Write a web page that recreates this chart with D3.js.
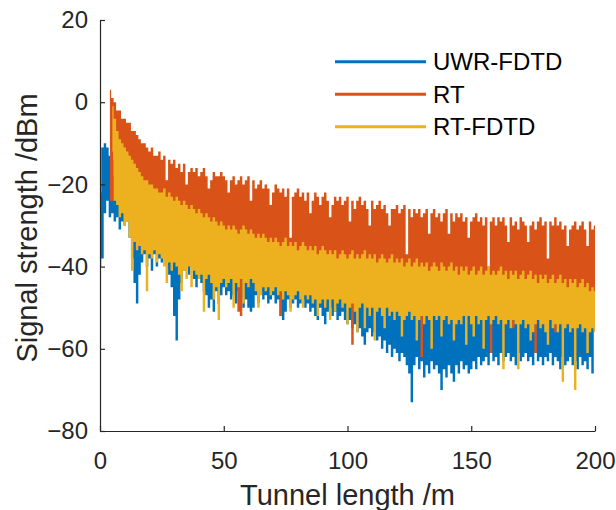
<!doctype html>
<html>
<head>
<meta charset="utf-8">
<title>Signal strength along the tunnel</title>
<script src="https://cdn.jsdelivr.net/npm/d3@7"></script>
<style>
    body { margin: 0; background: #fff; }
    svg { display: block; font-family: "Liberation Sans", Arial, sans-serif; }
</style>
</head>
<body>
<svg id="chart" width="616" height="510"></svg>
<script>

    // tunnel length, one sample per metre
    var distance = d3.range(0, 201);

    // series names / legend
    var seriesNames = ["UWR-FDTD", "RT", "RT-FDTD"];
    var xTicks = [0, 50, 100, 150, 200];
    var yTicks = [20, 0, -20, -40, -60, -80];

    // per-metre max / min of each trace (dBm)
    var uwrMax = [
        -22,-11,-10,-11,-13,-14,-18,-20,-22,-20,
        -22,-24,-25,-26,-28,-29,-30,-31,-32,-33,
        -26,-27,-27,-28,-28,-29,-28,-29,-29,-30,
        -30,-31,-31,-32,-31,-32,-33,-32,-33,-34,
        -33,-34,-35,-34,-35,-36,-35,-36,-37,-36,
        -36,-37,-37,-38,-37,-38,-39,-38,-37,-38,
        -39,-38,-39,-40,-39,-40,-39,-40,-41,-40,
        -41,-40,-41,-42,-41,-40,-42,-41,-42,-41,
        -43,-42,-41,-42,-43,-42,-43,-42,-44,-43,
        -42,-43,-44,-43,-44,-43,-45,-44,-43,-44,
        -45,-44,-43,-45,-44,-45,-44,-43,-45,-44,
        -45,-44,-46,-45,-44,-45,-46,-45,-44,-46,
        -45,-46,-45,-47,-46,-45,-47,-46,-45,-47,
        -46,-47,-46,-48,-47,-46,-47,-48,-46,-47,
        -48,-47,-46,-48,-47,-49,-47,-48,-47,-49,
        -48,-47,-49,-48,-47,-49,-48,-47,-49,-48,
        -49,-48,-47,-49,-48,-50,-48,-49,-48,-50,
        -49,-48,-50,-49,-48,-50,-49,-51,-49,-50,
        -49,-51,-50,-49,-51,-50,-49,-51,-50,-52,
        -50,-51,-50,-52,-51,-50,-52,-51,-53,-52,
        -50
    ];
    var uwrMin = [
        -40,-38,-27,-24,-28,-27,-29,-28,-31,-29,
        -30,-29,-33,-38,-44,-49,-42,-39,-37,-40,
        -38,-41,-37,-40,-38,-39,-36,-40,-42,-45,
        -52,-58,-48,-44,-41,-39,-42,-40,-43,-45,
        -43,-44,-46,-47,-50,-48,-51,-46,-49,-47,
        -45,-47,-46,-48,-47,-49,-46,-48,-50,-48,
        -50,-51,-50,-47,-49,-46,-48,-47,-49,-48,
        -47,-49,-48,-52,-53,-51,-48,-50,-49,-48,
        -50,-49,-48,-50,-49,-51,-50,-52,-53,-50,
        -52,-54,-51,-50,-52,-51,-53,-52,-51,-53,
        -54,-53,-55,-54,-56,-55,-57,-59,-56,-55,
        -57,-56,-58,-57,-60,-58,-61,-59,-62,-60,
        -61,-63,-61,-62,-64,-66,-73,-64,-62,-65,
        -63,-67,-64,-66,-63,-65,-64,-66,-70,-65,
        -67,-64,-66,-68,-64,-66,-63,-65,-64,-66,
        -65,-63,-65,-62,-64,-63,-62,-64,-61,-63,
        -62,-64,-61,-63,-62,-61,-63,-62,-64,-61,
        -63,-62,-61,-63,-62,-64,-61,-63,-62,-64,
        -62,-63,-61,-64,-62,-63,-65,-62,-64,-63,
        -62,-64,-63,-65,-62,-64,-63,-65,-62,-66,
        -50
    ];

    var rtMax = [
        null,null,null,null,3,1,0,-2,-2,-4,
        -4,-5,-5,-7,-7,-8,-9,-10,-10,-11,
        -12,-11,-13,-13,-12,-14,-13,-19,-14,-15,
        -14,-16,-15,-17,-15,-20,-17,-16,-17,-16,
        -18,-17,-16,-18,-21,-19,-17,-18,-18,-17,
        -18,-19,-22,-19,-18,-20,-19,-18,-20,-19,
        -18,-24,-19,-21,-20,-19,-21,-20,-21,-25,
        -22,-20,-21,-22,-21,-23,-21,-33,-23,-22,
        -21,-23,-22,-24,-22,-27,-24,-22,-23,-25,
        -23,-22,-24,-28,-25,-23,-24,-23,-25,-24,
        -23,-29,-24,-26,-24,-23,-25,-24,-26,-30,
        -24,-26,-25,-24,-26,-25,-27,-30,-26,-26,
        -25,-27,-26,-25,-37,-26,-28,-26,-27,-26,
        -28,-27,-26,-32,-27,-26,-28,-27,-29,-27,
        -26,-32,-27,-29,-27,-28,-27,-29,-28,-33,
        -29,-28,-27,-29,-28,-30,-28,-40,-29,-28,
        -30,-28,-29,-28,-30,-34,-28,-30,-29,-31,
        -28,-29,-30,-34,-30,-29,-31,-29,-28,-30,
        -29,-38,-29,-30,-28,-30,-29,-31,-30,-35,
        -31,-30,-29,-31,-30,-29,-31,-35,-29,-31,
        -30
    ];
    var rtMin = [
        null,null,null,null,-24,-24,-10,-12,-13,-15,
        -15,-16,-17,-30,-31,-35,-20,-22,-23,-22,
        -24,-37,-36,-25,-26,-25,-25,-27,-26,-27,
        -28,-27,-28,-29,-28,-29,-30,-29,-30,-31,
        -30,-31,-32,-31,-32,-33,-32,-33,-34,-33,
        -34,-35,-34,-35,-34,-35,-51,-52,-34,-35,
        -36,-35,-36,-37,-36,-37,-36,-37,-38,-37,
        -38,-37,-38,-52,-38,-37,-39,-38,-39,-38,
        -40,-39,-38,-39,-40,-39,-48,-39,-41,-40,
        -39,-40,-41,-40,-41,-40,-42,-41,-40,-41,
        -42,-41,-59,-42,-41,-42,-41,-40,-42,-41,
        -42,-41,-43,-42,-41,-42,-43,-42,-41,-43,
        -42,-43,-42,-44,-43,-42,-44,-43,-42,-44,
        -62,-44,-43,-45,-44,-43,-44,-45,-43,-44,
        -45,-44,-43,-45,-44,-46,-44,-45,-44,-46,
        -45,-44,-46,-45,-44,-46,-45,-44,-61,-45,
        -46,-45,-44,-46,-45,-47,-45,-55,-45,-47,
        -46,-45,-47,-46,-45,-47,-61,-48,-46,-47,
        -46,-48,-47,-46,-56,-47,-46,-48,-47,-49,
        -47,-54,-47,-49,-48,-47,-49,-48,-50,-49,
        -50
    ];

    var rtfdtdMax = [
        null,null,null,null,null,-1,-4,-7,-9,-10,
        -11,-12,-13,-14,-15,-16,-17,-18,-19,-19,
        -20,-20,-21,-21,-22,-22,-21,-23,-22,-23,
        -24,-23,-24,-25,-24,-25,-26,-25,-26,-27,
        -26,-27,-28,-27,-28,-29,-28,-29,-30,-29,
        -30,-31,-30,-31,-30,-31,-32,-31,-30,-31,
        -32,-31,-32,-33,-32,-33,-32,-33,-34,-33,
        -34,-33,-34,-35,-34,-33,-35,-34,-35,-34,
        -36,-35,-34,-35,-36,-35,-36,-35,-37,-36,
        -35,-36,-37,-36,-37,-36,-38,-37,-36,-37,
        -38,-37,-36,-38,-37,-38,-37,-36,-38,-37,
        -38,-37,-39,-38,-37,-38,-39,-38,-37,-39,
        -38,-39,-38,-40,-39,-38,-40,-39,-38,-40,
        -39,-40,-39,-41,-40,-39,-40,-41,-39,-40,
        -41,-40,-39,-41,-40,-42,-40,-41,-40,-42,
        -41,-40,-42,-41,-40,-42,-41,-40,-42,-41,
        -42,-41,-40,-42,-41,-43,-41,-42,-41,-43,
        -42,-41,-43,-42,-41,-43,-42,-44,-42,-43,
        -42,-44,-43,-42,-44,-43,-42,-44,-43,-45,
        -43,-44,-43,-45,-44,-43,-45,-44,-46,-45,
        -46
    ];
    var rtfdtdMin = [
        null,null,null,null,null,-12,-24,-25,-28,-27,
        -30,-29,-33,-41,-34,-36,-35,-37,-36,-46,
        -37,-38,-36,-39,-37,-38,-40,-44,-39,-41,
        -39,-40,-42,-46,-41,-43,-40,-45,-41,-42,
        -43,-42,-51,-43,-42,-44,-48,-45,-53,-44,
        -43,-45,-44,-43,-50,-44,-45,-43,-49,-44,
        -45,-43,-44,-46,-50,-47,-45,-46,-45,-47,
        -46,-45,-47,-46,-48,-46,-47,-51,-48,-47,
        -46,-48,-50,-47,-48,-47,-49,-48,-52,-49,
        -48,-50,-48,-53,-48,-51,-49,-48,-50,-49,
        -54,-50,-49,-51,-56,-50,-49,-55,-50,-52,
        -50,-58,-51,-50,-52,-55,-50,-52,-51,-53,
        -51,-52,-57,-53,-52,-51,-53,-52,-58,-53,
        -52,-54,-52,-53,-60,-52,-53,-52,-57,-53,
        -52,-54,-53,-58,-54,-53,-54,-52,-59,-52,
        -54,-57,-52,-54,-53,-60,-53,-52,-54,-53,
        -52,-54,-53,-65,-54,-53,-55,-53,-54,-65,
        -54,-53,-55,-54,-58,-56,-54,-53,-55,-54,
        -56,-59,-53,-55,-54,-56,-54,-68,-55,-54,
        -56,-55,-70,-55,-54,-56,-55,-61,-56,-55,
        -56
    ];

    var colors = ["#0072BD", "#D95319", "#EDB120"];
    var axisColor = "#262626";

    var series = [
        { name: seriesNames[0], hi: uwrMax, lo: uwrMin, color: colors[0] },
        { name: seriesNames[1], hi: rtMax, lo: rtMin, color: colors[1] },
        { name: seriesNames[2], hi: rtfdtdMax, lo: rtfdtdMin, color: colors[2] }
    ];

    var svg = d3.select("#chart");

    var x = d3.scaleLinear().domain([0, 200]).range([100, 595]);
    var y = d3.scaleLinear().domain([-80, 20]).range([431, 20]);

    // traces, drawn blue first so the later ones sit on top
    var area = d3.area()
        .defined(function(d) { return d.hi !== null; })
        .x(function(d) { return x(d.m); })
        .y0(function(d) { return y(d.lo); })
        .y1(function(d) { return y(d.hi); })
        .curve(d3.curveStep);

    series.forEach(function(s) {
        var pts = distance.map(function(m, i) {
            return { m: m, hi: s.hi[i], lo: s.lo[i] };
        });
        svg.append("path")
            .datum(pts)
            .attr("d", area)
            .attr("fill", s.color);
    });

    // axes (ticks point inward, no box)
    var yAxis = svg.append("g")
        .attr("transform", "translate(100,0)")
        .call(d3.axisLeft(y).tickValues(yTicks).tickSizeInner(-5).tickSizeOuter(0).tickPadding(12));

    var xAxis = svg.append("g")
        .attr("transform", "translate(0,431)")
        .call(d3.axisBottom(x).tickValues(xTicks).tickSizeInner(-5).tickSizeOuter(0).tickPadding(21));

    [yAxis, xAxis].forEach(function(g) {
        g.select(".domain").attr("stroke", axisColor).attr("stroke-width", 1.2);
        g.selectAll(".tick line").attr("stroke", axisColor).attr("stroke-width", 1.2);
        g.selectAll(".tick text")
            .attr("fill", axisColor)
            .attr("font-size", "24px")
            .attr("font-family", "Liberation Sans, Arial, sans-serif");
    });

    svg.append("text")
        .attr("x", x(100))
        .attr("y", 505)
        .attr("text-anchor", "middle")
        .attr("font-size", "29px")
        .attr("fill", axisColor)
        .text("Tunnel length /m");

    svg.append("text")
        .attr("transform", "translate(36.5,228) rotate(-90)")
        .attr("text-anchor", "middle")
        .attr("font-size", "29px")
        .attr("fill", axisColor)
        .text("Signal strength /dBm");

    // legend
    var legend = svg.append("g");
    series.forEach(function(s, i) {
        var ly = 61.7 + i * 32.5;
        legend.append("line")
            .attr("x1", 335)
            .attr("x2", 426)
            .attr("y1", ly)
            .attr("y2", ly)
            .attr("stroke", s.color)
            .attr("stroke-width", 3);
        legend.append("text")
            .attr("x", 433)
            .attr("y", ly + 8.6)
            .attr("font-size", "24px")
            .attr("fill", "#000")
            .text(s.name);
    });

</script>
</body>
</html>
